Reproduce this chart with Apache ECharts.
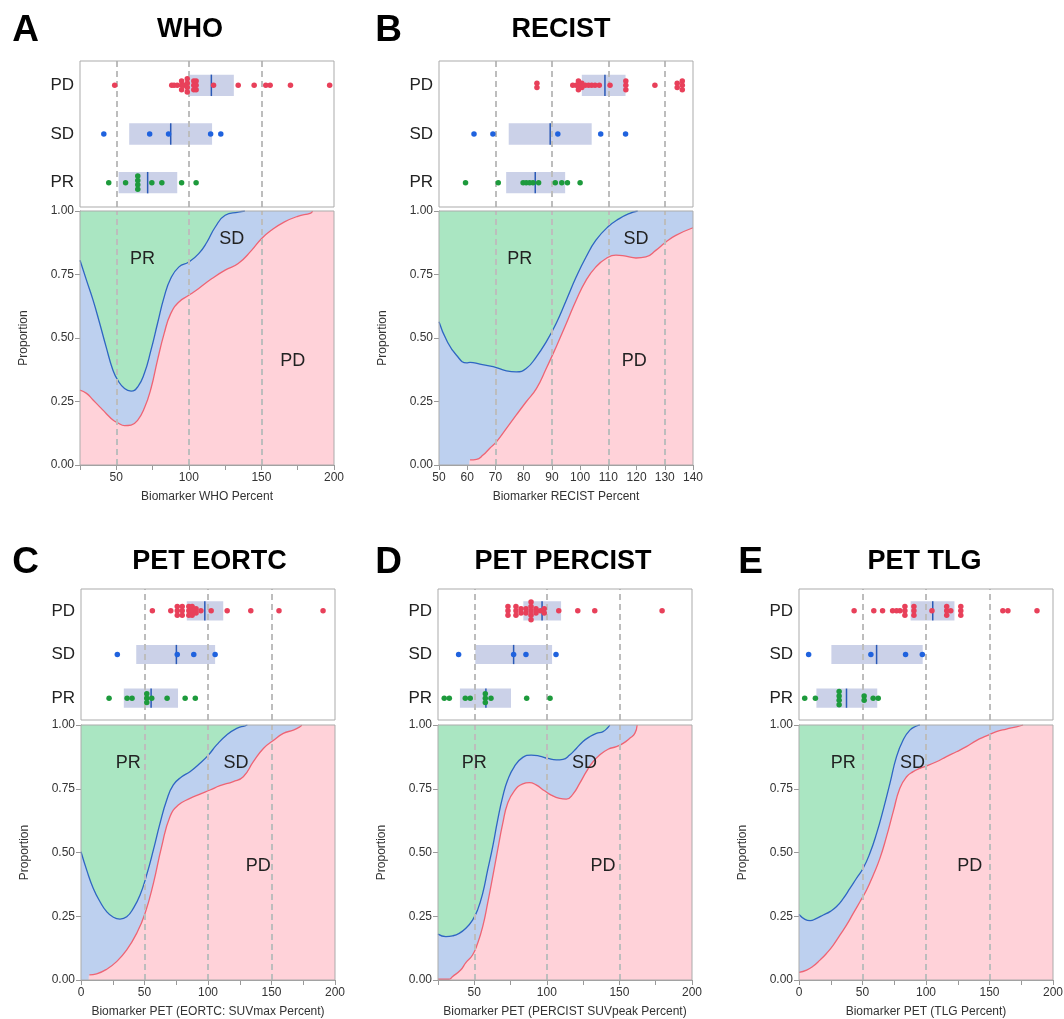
<!DOCTYPE html>
<html><head><meta charset="utf-8">
<script src="https://cdn.jsdelivr.net/npm/echarts@6/dist/echarts.min.js"></script>
<style>html,body{margin:0;padding:0;background:#fff}#main{width:1064px;height:1019px}</style>
</head><body><div id="main"></div>
<script>
// ---------------- DATA ----------------
const categories = ['PR', 'SD', 'PD'];

// Panel A - WHO
const A_PD_dots = [48.9, 88.2, 89.8, 92, 95, 95, 95, 96.6, 98.9, 98.9, 98.9, 98.9, 103.4, 103.4, 103.4, 105, 105, 105, 117, 134, 145, 153, 156, 170, 197];
const A_SD_dots = [41.4, 73, 86, 115, 122];
const A_PR_dots = [44.8, 56.4, 64.8, 64.8, 64.8, 64.8, 74.5, 81.4, 95, 105];
const A_PD_box = [100, 115.5, 131];
const A_SD_box = [58.9, 87.5, 116];
const A_PR_box = [51.6, 71.6, 92];
const A_sdTop = [[25,0.806],[29.5,0.727],[34,0.649],[38.6,0.557],[43,0.465],[47.7,0.373],[51,0.334],[55.7,0.301],[60.2,0.291],[64.8,0.308],[69.3,0.36],[73.9,0.452],[78.4,0.557],[83,0.662],[87.5,0.734],[93.2,0.78],[100,0.799],[106.8,0.832],[112.5,0.878],[118.2,0.937],[125,0.983],[134,0.996],[138.6,1],[200,1]];
const A_pdTop = [[25,0.295],[29.5,0.282],[34,0.256],[38.6,0.229],[43,0.203],[47.7,0.177],[51,0.166],[55.7,0.155],[60.2,0.157],[64.8,0.177],[69.3,0.223],[73.9,0.301],[78.4,0.413],[83,0.518],[87.5,0.596],[93.2,0.642],[100,0.668],[106.8,0.695],[115.9,0.734],[125,0.767],[134,0.793],[143.2,0.845],[150,0.891],[156.8,0.924],[165.9,0.957],[175,0.979],[184,0.992],[185.2,1],[200,1]];
const A_areaLabels = [['PR', 68, 0.81], ['SD', 129.5, 0.89], ['PD', 171.6, 0.41]];

// Panel B - RECIST
const B_PD_dots = [84.7, 84.7, 97.4, 98.6, 99.4, 99.4, 99.4, 100.6, 100.6, 101.8, 103, 104.1, 105.3, 106.8, 110.6, 116.2, 116.2, 116.2, 126.5, 134.4, 134.4, 136.2, 136.2, 136.2];
const B_SD_dots = [62.4, 69.1, 92.1, 107.3, 116.1];
const B_PR_dots = [59.4, 71, 79.8, 80.9, 82.1, 83.3, 85.3, 91.2, 93.5, 95.5, 100];
const B_PD_box = [100.6, 108.8, 116.1];
const B_SD_box = [74.7, 89.4, 104.1];
const B_PR_box = [73.8, 84.1, 94.7];
const B_sdTop = [[50,0.564],[52.7,0.491],[56.2,0.432],[59.8,0.402],[61,0.404],[64.5,0.397],[69.2,0.387],[73.9,0.371],[77.4,0.367],[80.9,0.38],[84.5,0.426],[88,0.485],[91.5,0.557],[95.1,0.649],[98.6,0.74],[102.1,0.819],[105.6,0.885],[109.8,0.937],[113.9,0.97],[117.4,0.99],[120.4,1],[140,1]];
const B_pdTop = [[50,0],[60.5,0],[61,0.02],[63.3,0.022],[65.6,0.039],[68,0.066],[70.4,0.092],[73.9,0.144],[77.4,0.197],[80.9,0.249],[84.5,0.301],[88,0.38],[91.5,0.465],[95.1,0.557],[98.6,0.649],[102.1,0.727],[105.6,0.78],[109.2,0.813],[112.7,0.826],[116.2,0.822],[119.8,0.815],[123.3,0.819],[126.8,0.845],[130.4,0.878],[133.9,0.904],[140,0.934]];
const B_areaLabels = [['PR', 78.6, 0.81], ['SD', 119.8, 0.89], ['PD', 119.2, 0.41]];

// Panel C - PET EORTC
const C_PD_dots = [56.2, 70.7, 75.8, 75.8, 75.8, 79.7, 79.7, 79.7, 84.9, 84.9, 84.9, 87.5, 87.5, 87.5, 90.6, 90.6, 94.4, 102.5, 115.1, 133.7, 155.9, 190.6];
const C_SD_dots = [28.6, 75.8, 88.8, 105.6];
const C_PR_dots = [22.1, 36.3, 40.2, 51.8, 51.8, 51.8, 55.7, 67.8, 82, 90];
const C_PD_box = [83.3, 97.5, 112];
const C_SD_box = [43.5, 75.1, 105.6];
const C_PR_box = [33.7, 55.2, 76.4];
const C_sdTop = [[0,0.503],[4.5,0.431],[9.7,0.359],[15,0.307],[20.2,0.268],[25.5,0.246],[30.7,0.239],[36,0.248],[41.2,0.281],[46.5,0.333],[51.7,0.412],[57,0.51],[62.2,0.614],[67.5,0.706],[72.7,0.765],[79.3,0.797],[85.8,0.817],[93.7,0.85],[100.3,0.882],[106.8,0.922],[114.7,0.961],[122.6,0.987],[129.1,0.997],[131,1],[200,1]];
const C_pdTop = [[0,0],[5.5,0],[6.6,0.02],[12.3,0.024],[20.2,0.042],[28,0.072],[36,0.118],[43.8,0.183],[50.4,0.261],[57,0.379],[63.5,0.523],[70.1,0.641],[76.6,0.686],[85.8,0.712],[93.7,0.729],[101.6,0.745],[109.4,0.762],[119.9,0.778],[127.8,0.797],[135.7,0.856],[143.6,0.908],[151.4,0.939],[159.3,0.967],[167.2,0.98],[172.4,0.993],[173.8,1],[200,1]];
const C_areaLabels = [['PR', 37.3, 0.852], ['SD', 122, 0.852], ['PD', 139.6, 0.448]];

// Panel D - PET PERCIST
const D_PD_dots = [73.2, 73.2, 73.2, 78.7, 78.7, 78.7, 82.2, 82.2, 85.6, 85.6, 89.1, 89.1, 89.1, 89.1, 89.1, 92.5, 92.5, 95.5, 98.2, 98.2, 108.2, 121.3, 133, 179.4];
const D_SD_dots = [39.2, 77.1, 85.6, 106.3];
const D_PR_dots = [29.3, 32.8, 43.8, 47.2, 57.6, 57.6, 57.6, 61.5, 86.1, 102.2];
const D_PD_box = [83.8, 96.7, 109.8];
const D_SD_box = [50.7, 77.1, 103.6];
const D_PR_box = [40.1, 58, 75.3];
const D_sdTop = [[25,0.18],[30.4,0.17],[35,0.173],[39.6,0.183],[44.2,0.203],[48.8,0.235],[52.3,0.275],[55.8,0.34],[59.2,0.431],[62.7,0.523],[66.1,0.627],[69.6,0.719],[73,0.784],[77.6,0.837],[83.4,0.873],[89.2,0.882],[94.9,0.878],[100.7,0.869],[106.5,0.863],[111.1,0.865],[115.7,0.882],[120.3,0.908],[124.9,0.935],[129.5,0.954],[134.1,0.967],[138.7,0.974],[142.2,0.991],[143.3,1],[200,1]];
const D_pdTop = [[25,0.003],[32.6,0.003],[34.9,0.013],[40.6,0.039],[44.2,0.068],[48.8,0.098],[52.3,0.144],[55.8,0.209],[59.2,0.301],[62.7,0.405],[66.1,0.51],[69.6,0.614],[73,0.693],[77.6,0.742],[83.4,0.769],[88,0.774],[92.6,0.765],[98.4,0.742],[103,0.725],[108.8,0.712],[113.4,0.709],[118,0.729],[122.6,0.771],[127.2,0.817],[131.8,0.856],[136.4,0.882],[142.2,0.905],[147.9,0.915],[152.5,0.928],[157.1,0.948],[160.6,0.967],[162.2,1],[200,1]];
const D_areaLabels = [['PR', 50, 0.852], ['SD', 126, 0.852], ['PD', 138.7, 0.448]];

// Panel E - PET TLG
const E_PD_dots = [43.4, 58.9, 65.8, 73.7, 76.8, 79.5, 83.4, 83.4, 83.4, 90.5, 90.5, 90.5, 104.7, 116.3, 116.3, 116.3, 119.5, 127.4, 127.4, 127.4, 160.5, 164.5, 187.4];
const E_SD_dots = [7.6, 56.6, 83.9, 97.1];
const E_PR_dots = [4.5, 12.9, 31.6, 31.6, 31.6, 31.6, 51.3, 51.3, 58.4, 62.4];
const E_PD_box = [87.9, 105.3, 122.4];
const E_SD_box = [25.5, 61.1, 97.4];
const E_PR_box = [13.7, 37.4, 61.6];
const E_sdTop = [[0,0.257],[4.7,0.238],[8.7,0.233],[13.9,0.242],[19.1,0.255],[24.4,0.268],[29.6,0.288],[34.9,0.32],[40.1,0.359],[45.3,0.399],[50.5,0.438],[55.8,0.497],[61.1,0.575],[66.3,0.667],[71.6,0.771],[76.8,0.876],[82,0.941],[87.3,0.98],[92.5,0.996],[95.2,1],[200,1]];
const E_pdTop = [[0,0.03],[6,0.039],[11.3,0.055],[16.5,0.078],[21.8,0.105],[27,0.137],[32.2,0.176],[37.5,0.216],[42.7,0.261],[48,0.307],[53.2,0.353],[58.5,0.412],[63.7,0.477],[68.9,0.562],[74.2,0.66],[79.4,0.752],[84.7,0.797],[89.9,0.817],[95.2,0.83],[100.3,0.839],[108.3,0.856],[116.1,0.876],[124,0.895],[131.8,0.915],[139.6,0.939],[147.6,0.957],[155.4,0.974],[163.3,0.984],[171.2,0.993],[176.4,1],[200,1]];
const E_areaLabels = [['PR', 34.9, 0.852], ['SD', 89.4, 0.852], ['PD', 134.5, 0.448]];

// Axis ticks
const A_ticks = {min: 25, max: 200, step: 25, labelEvery: 50, dashed: [50, 100, 150]};
const B_ticks = {min: 50, max: 140, step: 10, labelEvery: 10, dashed: [70, 90, 110, 130]};
const C_ticks = {min: 0, max: 200, step: 25, labelEvery: 50, dashed: [50, 100, 150]};
const D_ticks = {min: 25, max: 200, step: 25, labelEvery: 50, dashed: [50, 100, 150]};
const E_ticks = {min: 0, max: 200, step: 25, labelEvery: 50, dashed: [50, 100, 150]};

// ---------------- STYLE / LAYOUT ----------------
const FONT = '"Liberation Sans", Arial, Helvetica, sans-serif';
const COL = {
  prArea: '#aae6c2', sdArea: '#bdd0ef', pdArea: '#ffd2d9',
  sdLine: '#2f66c2', pdLine: '#ee6474',
  box: '#cbd1e8', median: '#2a59b6',
  PD: '#e8405a', SD: '#1f62de', PR: '#1d9a3c',
  dash: '#bdbdbd', frame: '#ababab', text: '#222'
};

const panels = [
  {letter: 'A', title: 'WHO', xName: 'Biomarker WHO Percent', ticks: A_ticks,
   dots: {PD: A_PD_dots, SD: A_SD_dots, PR: A_PR_dots}, boxes: {PD: A_PD_box, SD: A_SD_box, PR: A_PR_box},
   sdTop: A_sdTop, pdTop: A_pdTop, labels: A_areaLabels,
   L: {left: 80, stripTop: 61, stripH: 146, areaTop: 211, areaH: 254, letter: [25.5, 31], title: [190, 30]}},
  {letter: 'B', title: 'RECIST', xName: 'Biomarker RECIST Percent', ticks: B_ticks,
   dots: {PD: B_PD_dots, SD: B_SD_dots, PR: B_PR_dots}, boxes: {PD: B_PD_box, SD: B_SD_box, PR: B_PR_box},
   sdTop: B_sdTop, pdTop: B_pdTop, labels: B_areaLabels,
   L: {left: 439, stripTop: 61, stripH: 146, areaTop: 211, areaH: 254, letter: [388.5, 31], title: [561, 30]}},
  {letter: 'C', title: 'PET EORTC', xName: 'Biomarker PET (EORTC: SUVmax Percent)', ticks: C_ticks,
   dots: {PD: C_PD_dots, SD: C_SD_dots, PR: C_PR_dots}, boxes: {PD: C_PD_box, SD: C_SD_box, PR: C_PR_box},
   sdTop: C_sdTop, pdTop: C_pdTop, labels: C_areaLabels,
   L: {left: 81, stripTop: 589, stripH: 131, areaTop: 725, areaH: 255, letter: [25.5, 563], title: [209.5, 562]}},
  {letter: 'D', title: 'PET PERCIST', xName: 'Biomarker PET (PERCIST SUVpeak Percent)', ticks: D_ticks,
   dots: {PD: D_PD_dots, SD: D_SD_dots, PR: D_PR_dots}, boxes: {PD: D_PD_box, SD: D_SD_box, PR: D_PR_box},
   sdTop: D_sdTop, pdTop: D_pdTop, labels: D_areaLabels,
   L: {left: 438, stripTop: 589, stripH: 131, areaTop: 725, areaH: 255, letter: [388.5, 563], title: [563, 562]}},
  {letter: 'E', title: 'PET TLG', xName: 'Biomarker PET (TLG Percent)', ticks: E_ticks,
   dots: {PD: E_PD_dots, SD: E_SD_dots, PR: E_PR_dots}, boxes: {PD: E_PD_box, SD: E_SD_box, PR: E_PR_box},
   sdTop: E_sdTop, pdTop: E_pdTop, labels: E_areaLabels,
   L: {left: 799, stripTop: 589, stripH: 131, areaTop: 725, areaH: 255, letter: [750.5, 563], title: [924.5, 562]}}
];
const GRID_W = 254;
const SMOOTH = 0.5;

// category row centre on the strip's value axis (0..3)
const catPos = c => categories.indexOf(c) + 0.5;

function swarm(values, c) {
  const seen = {}, count = {};
  values.forEach(v => { count[v] = (count[v] || 0) + 1; });
  return values.map(v => {
    const k = seen[v] || 0; seen[v] = k + 1;
    const n = count[v];
    return {value: [v, catPos(c)], symbolOffset: [0, (k - (n - 1) / 2) * 4.4]};
  });
}
function lineUntilTop(pts) {
  const out = [];
  for (const p of pts) {
    if (p[1] <= 0) continue;
    out.push(p);
    if (p[1] >= 1) break;
  }
  return out;
}
function dashMark(vals) {
  return {silent: true, symbol: ['none', 'none'], label: {show: false}, animation: false,
    lineStyle: {color: COL.dash, type: [6, 4], width: 2},
    data: vals.map(v => ({xAxis: v}))};
}

const option = {animation: false, backgroundColor: '#fff', textStyle: {fontFamily: FONT},
  grid: [], xAxis: [], yAxis: [], series: [], graphic: []};

panels.forEach(p => {
  const t = p.ticks, L = p.L;
  const gs = option.grid.length;
  option.grid.push({left: L.left, top: L.stripTop, width: GRID_W, height: L.stripH, show: true,
    borderColor: COL.frame, borderWidth: 1, backgroundColor: 'rgba(0,0,0,0)', z: 10, outerBoundsMode: 'none'});
  option.grid.push({left: L.left, top: L.areaTop, width: GRID_W, height: L.areaH, show: true,
    borderColor: COL.frame, borderWidth: 1, backgroundColor: 'rgba(0,0,0,0)', z: 10, outerBoundsMode: 'none'});
  const xs = option.xAxis.length, ys = option.yAxis.length;
  option.xAxis.push({gridIndex: gs, type: 'value', min: t.min, max: t.max, show: false});
  option.yAxis.push({gridIndex: gs, type: 'value', min: 0, max: 3, interval: 0.5,
    axisLine: {show: false}, axisTick: {show: false}, splitLine: {show: false},
    axisLabel: {fontSize: 17, color: COL.text, margin: 6, showMinLabel: true, showMaxLabel: true,
      formatter: v => { const i = Math.round(v - 0.5); return Math.abs(v - 0.5 - i) < 1e-6 && categories[i] ? categories[i] : ''; }}});
  option.xAxis.push({gridIndex: gs + 1, type: 'value', min: t.min, max: t.max, interval: t.step,
    axisLine: {show: true, lineStyle: {color: '#999'}}, axisTick: {show: true, length: 5, lineStyle: {color: '#999'}},
    splitLine: {show: false},
    axisLabel: {fontSize: 12, color: '#333', margin: 7, showMinLabel: true, showMaxLabel: true,
      formatter: v => (Math.abs(v % t.labelEvery) < 1e-6 ? String(v) : '')},
    name: p.xName, nameLocation: 'middle', nameGap: 26, nameTextStyle: {fontSize: 12, color: '#333'}});
  option.yAxis.push({gridIndex: gs + 1, type: 'value', min: 0, max: 1, interval: 0.25,
    axisLine: {show: true, lineStyle: {color: '#999'}}, axisTick: {show: true, length: 5, lineStyle: {color: '#999'}},
    splitLine: {show: false},
    axisLabel: {fontSize: 12, color: '#333', margin: 6, formatter: v => v.toFixed(2)},
    name: 'Proportion', nameLocation: 'middle', nameGap: 50, nameTextStyle: {fontSize: 12, color: '#333'}});

  // --- strip: boxes (q1, median, q3, row)
  option.series.push({type: 'custom', xAxisIndex: xs, yAxisIndex: ys, silent: true, z: 2,
    dimensions: ['q1', 'med', 'q3', 'row'],
    encode: {x: [0, 1, 2], y: 3},
    data: categories.map(c => p.boxes[c].concat([catPos(c)])),
    renderItem: (params, api) => {
      const row = api.value(3);
      const p1 = api.coord([api.value(0), row]), pm = api.coord([api.value(1), row]), p3 = api.coord([api.value(2), row]);
      const h = api.size([0, 1])[1] * 0.44;
      return {type: 'group', children: [
        {type: 'rect', shape: {x: p1[0], y: p1[1] - h / 2, width: p3[0] - p1[0], height: h}, style: {fill: COL.box}},
        {type: 'line', shape: {x1: pm[0], y1: pm[1] - h / 2, x2: pm[0], y2: pm[1] + h / 2}, style: {stroke: COL.median, lineWidth: 1.5}}
      ]};
    }});
  // --- strip: dots
  categories.forEach((c, ci) => {
    const s = {type: 'scatter', xAxisIndex: xs, yAxisIndex: ys, silent: true, z: 6,
      symbol: 'circle', symbolSize: 5.5, itemStyle: {color: COL[c], opacity: 1},
      data: swarm(p.dots[c], c)};
    if (ci === 0) s.markLine = dashMark(t.dashed);
    option.series.push(s);
  });

  // --- area chart
  const ax = xs + 1, ay = ys + 1;
  const lineBase = {type: 'line', xAxisIndex: ax, yAxisIndex: ay, silent: true, showSymbol: false, symbol: 'none'};
  option.series.push(Object.assign({}, lineBase, {data: [[t.min, 1], [t.max, 1]], lineStyle: {width: 0},
    areaStyle: {color: COL.prArea, opacity: 1}, z: 2}));
  option.series.push(Object.assign({}, lineBase, {smooth: SMOOTH, data: p.sdTop, lineStyle: {width: 0},
    areaStyle: {color: COL.sdArea, opacity: 1}, z: 2}));
  option.series.push(Object.assign({}, lineBase, {smooth: SMOOTH, data: p.pdTop, lineStyle: {width: 0},
    areaStyle: {color: COL.pdArea, opacity: 1}, z: 2}));
  option.series.push(Object.assign({}, lineBase, {smooth: SMOOTH, data: lineUntilTop(p.sdTop),
    lineStyle: {width: 1.3, color: COL.sdLine}, z: 3}));
  option.series.push(Object.assign({}, lineBase, {smooth: SMOOTH, data: lineUntilTop(p.pdTop),
    lineStyle: {width: 1.3, color: COL.pdLine}, z: 3, markLine: dashMark(t.dashed)}));
  const labs = p.labels;
  option.series.push({type: 'custom', xAxisIndex: ax, yAxisIndex: ay, silent: true, z: 7,
    dimensions: ['x', 'y'], encode: {x: 0, y: 1},
    data: labs.map(l => [l[1], l[2]]),
    renderItem: (params, api) => {
      const pt = api.coord([api.value(0), api.value(1)]);
      return {type: 'text', x: pt[0], y: pt[1], style: {text: labs[params.dataIndex][0], fill: COL.text,
        font: '18px ' + FONT, textAlign: 'center', textVerticalAlign: 'middle', align: 'center', verticalAlign: 'middle'}};
    }});

  // --- letter & title
  option.graphic.push({type: 'text', x: L.letter[0], y: L.letter[1], silent: true, z: 20,
    style: {text: p.letter, fill: '#000', font: 'bold 37px ' + FONT, textAlign: 'center', textVerticalAlign: 'middle', align: 'center', verticalAlign: 'middle'}});
  option.graphic.push({type: 'text', x: L.title[0], y: L.title[1], silent: true, z: 20,
    style: {text: p.title, fill: '#000', font: 'bold 27px ' + FONT, textAlign: 'center', textVerticalAlign: 'middle', align: 'center', verticalAlign: 'middle'}});
});

const chart = echarts.init(document.getElementById('main'), null, {renderer: 'canvas', width: 1064, height: 1019});
chart.setOption(option);
</script>
</body></html>
